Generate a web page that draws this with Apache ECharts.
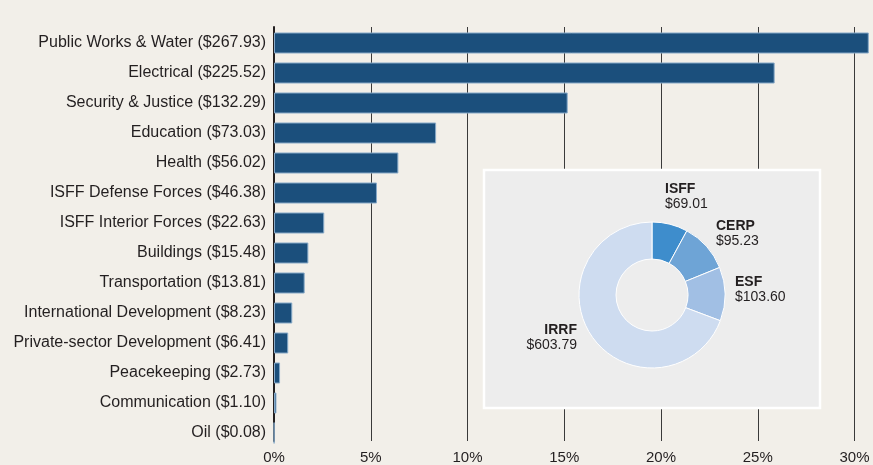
<!DOCTYPE html>
<html>
<head>
<meta charset="utf-8">
<script src="https://cdn.jsdelivr.net/npm/echarts@6/dist/echarts.min.js"></script>
<style>
  html, body { margin: 0; padding: 0; background: #f2efe9; }
  #chart { width: 873px; height: 465px; }
</style>
</head>
<body>
<div id="chart"></div>
<script>
// Reconstruction spending by sector ($ millions)
const sectors = [
  'Public Works & Water', 'Electrical', 'Security & Justice', 'Education', 'Health',
  'ISFF Defense Forces', 'ISFF Interior Forces', 'Buildings', 'Transportation',
  'International Development', 'Private-sector Development', 'Peacekeeping',
  'Communication', 'Oil'
];
const sectorAmounts = [
  267.93, 225.52, 132.29, 73.03, 56.02, 46.38, 22.63, 15.48, 13.81, 8.23, 6.41, 2.73, 1.10, 0.08
];

// Funding sources ($ millions)
const fundNames = ['ISFF', 'CERP', 'ESF', 'IRRF'];
const fundAmounts = [69.01, 95.23, 103.60, 603.79];

const axisTicks = [0, 5, 10, 15, 20, 25, 30];

const total = sectorAmounts.reduce((a, b) => a + b, 0);
const shares = sectorAmounts.map(v => v / total * 100);
const sectorLabels = sectors.map((s, i) => s + ' ($' + sectorAmounts[i].toFixed(2) + ')');

// label anchors for the donut labels [x, y, align]
const fundLabelAnchors = [
  [665, 182, 'left'],
  [716, 219, 'left'],
  [735, 275, 'left'],
  [577, 323, 'right']
];
const fundColors = ['#3e8dcc', '#6ea4d6', '#a1bfe4', '#cedcf0'];

const FONT = 'Liberation Sans';
const INK = '#231f20';

const chart = echarts.init(document.getElementById('chart'), null, { renderer: 'canvas' });

chart.setOption({
  backgroundColor: '#f2efe9',
  animation: false,
  textStyle: { fontFamily: FONT, color: INK },
  grid: [
    { left: 274, right: 18.5, top: 28, bottom: 17 },
    { left: 274, right: 18.5, top: 27, bottom: 23 }
  ],
  xAxis: [
    { gridIndex: 0, type: 'value', min: 0, max: 30, interval: 5, show: false },
    {
      gridIndex: 1, type: 'value', min: axisTicks[0], max: axisTicks[axisTicks.length - 1], interval: 5,
      axisLine: { show: false }, axisTick: { show: false },
      splitLine: { show: true, lineStyle: { color: '#3a3a3a', width: 1 } },
      axisLabel: { color: INK, fontSize: 15, fontFamily: FONT, margin: 9, formatter: '{value}%' }
    }
  ],
  yAxis: [
    {
      gridIndex: 0, type: 'category', data: sectorLabels, inverse: true,
      axisLine: { show: false }, axisTick: { show: false },
      axisLabel: { color: INK, fontSize: 16, fontFamily: FONT, margin: 8 }
    },
    {
      gridIndex: 1, type: 'category', data: ['a'],
      axisLine: { show: true, lineStyle: { color: INK, width: 2 } },
      axisTick: { show: false }, axisLabel: { show: false }
    }
  ],
  graphic: [{
    type: 'rect', z: 5,
    shape: { x: 484, y: 170, width: 336, height: 238 },
    style: { fill: '#ededed', stroke: '#ffffff', lineWidth: 2.5 }
  }],
  series: [
    {
      type: 'bar', xAxisIndex: 0, yAxisIndex: 0, data: shares,
      barWidth: 21, clip: false,
      itemStyle: { color: '#1b4f7c', borderColor: '#86a9c8', borderWidth: 1 }
    },
    {
      type: 'pie', z: 10, center: [652, 295], radius: [36, 73],
      startAngle: 90, clockwise: true,
      data: fundNames.map((n, i) => ({ name: n, value: fundAmounts[i], itemStyle: { color: fundColors[i] } })),
      itemStyle: { borderColor: '#ffffff', borderWidth: 1 },
      label: {
        show: true, position: 'outside',
        formatter: p => '{n|' + p.name + '}\n{v|$' + p.value.toFixed(2) + '}',
        rich: {
          n: { fontFamily: FONT, fontSize: 14, fontWeight: 'bold', color: INK, lineHeight: 15 },
          v: { fontFamily: FONT, fontSize: 14, color: INK, lineHeight: 15 }
        }
      },
      labelLine: { show: false },
      labelLayout: p => {
        const a = fundLabelAnchors[p.dataIndex];
        return { x: a[0], y: a[1], align: a[2], verticalAlign: 'top' };
      },
      emphasis: { disabled: true }
    }
  ]
});
</script>
</body>
</html>
